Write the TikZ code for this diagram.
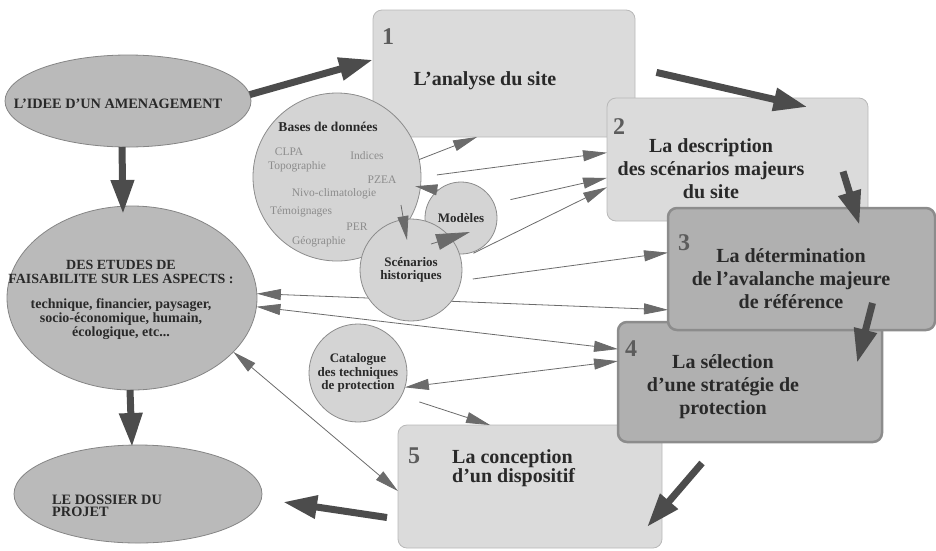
\documentclass[tikz,border=0pt]{standalone}
\usepackage{fontspec}
\setmainfont{Liberation Serif}
\usetikzlibrary{arrows.meta,positioning,calc,shapes.geometric}

\definecolor{ovalfill}{gray}{0.73}
\definecolor{ovalline}{gray}{0.52}
\definecolor{bubblefill}{gray}{0.83}
\definecolor{bubbleline}{gray}{0.55}
\definecolor{litefill}{gray}{0.86}
\definecolor{liteline}{gray}{0.72}
\definecolor{darkfill}{gray}{0.69}
\definecolor{darkline}{gray}{0.55}
\definecolor{inkgray}{gray}{0.16}
\definecolor{numgray}{gray}{0.36}
\definecolor{datagray}{gray}{0.55}
\definecolor{fatgray}{gray}{0.3}
\definecolor{thingray}{gray}{0.42}

\begin{document}
\begin{tikzpicture}[
    x=1pt, y=-1pt,
    oval/.style={ellipse, draw=ovalline, fill=ovalfill, line width=0.8pt,
                 inner sep=0pt, outer sep=0pt},
    bubble/.style={circle, draw=bubbleline, fill=bubblefill, line width=0.8pt,
                   inner sep=0pt, outer sep=0pt, minimum size=#1,
                   font=\fontsize{13}{13.5}\selectfont\bfseries, text=inkgray,
                   align=center},
    stagebox/.style={rectangle, rounded corners=9pt, inner sep=0pt, outer sep=0pt,
                     draw=liteline, fill=litefill, line width=0.8pt},
    stagedark/.style={stagebox, draw=darkline, fill=darkfill, line width=2.5pt},
    num/.style={font=\fontsize{24}{24}\selectfont\bfseries, text=numgray, inner sep=0pt},
    stagetxt/.style={font=\fontsize{20}{23}\selectfont\bfseries, text=inkgray,
                     align=center, inner sep=0pt},
    capstxt/.style={font=\fontsize{14.3}{14}\selectfont\bfseries, text=inkgray,
                    align=center, inner sep=0pt},
    datum/.style={font=\fontsize{11.5}{12}\selectfont, text=datagray, inner sep=0pt},
    thinarr/.style={draw=thingray, line width=0.8pt, -{Triangle[length=24pt,width=11pt]}},
    thinboth/.style={thinarr, {Triangle[length=24pt,width=11pt]}-{Triangle[length=24pt,width=11pt]}},
    fatarr/.style={draw=fatgray, line width=7pt, -{Triangle[length=34pt,width=22pt]}},
  ]
  \useasboundingbox (0,0) rectangle (936,550);

  % ovals on the left
  \node[oval, minimum width=246pt, minimum height=92pt] (idee) at (128,101) {};
  \node[capstxt] (idee-txt) at (118,104) {L'IDEE D'UN AMENAGEMENT};
  \node[oval, minimum width=250pt, minimum height=184pt] (etudes) at (132,298) {};
  \node[capstxt, font=\fontsize{14}{14}\selectfont\bfseries] (etudes-txt) at (121,300)
    {DES ETUDES DE\\FAISABILITE SUR LES ASPECTS :\\[11pt]%
    technique, financier, paysager,\\socio-économique, humain,\\écologique, etc...};
  \node[oval, minimum width=248pt, minimum height=98pt] (dos) at (138,494) {};
  \node[capstxt, align=left, font=\fontsize{14.3}{12.5}\selectfont\bfseries, anchor=west]
    (dos-txt) at (52,506) {LE DOSSIER DU\\PROJET};

  % the five stages
  \node[stagebox, minimum width=262pt, minimum height=127pt] (b1) at (504,73.5) {};
  \node[num, below right=18pt and 9pt of b1.north west] (n1) {1};
  \node[stagetxt] (t1) at (485,81) {L'analyse du site};

  \node[stagebox, minimum width=261pt, minimum height=123pt] (b2) at (737.5,159.5) {};
  \node[num, below right=20pt and 6pt of b2.north west] (n2) {2};
  \node[stagetxt] (t2) at (711,169) {La description\\des scénarios majeurs\\du site};

  \node[stagebox, minimum width=264pt, minimum height=123pt] (b5) at (530,486.5) {};
  \node[num, below right=23pt and 10pt of b5.north west] (n5) {5};
  \node[stagetxt, align=left, font=\fontsize{20}{18}\selectfont\bfseries, anchor=west]
    (t5) at (452,468.5) {La conception\\d'un dispositif};

  \node[stagedark, minimum width=264pt, minimum height=120pt] (b4) at (750,382) {};
  \node[num, below right=18pt and 7pt of b4.north west] (n4) {4};
  \node[stagetxt] (t4) at (723,386.5) {La sélection\\d'une stratégie de\\protection};

  \node[stagedark, minimum width=267pt, minimum height=122pt] (b3) at (801.5,269) {};
  \node[num, below right=26pt and 10pt of b3.north west] (n3) {3};
  \node[stagetxt] (t3) at (791,279) {La détermination\\de l'avalanche majeure\\de référence};

  % runs behind the bubbles
  \draw[thinboth] (etudes.2) -- (b3.197);

  % bubbles
  \node[bubble=168pt] (bdd) at (337,177) {};
  \node[capstxt, font=\fontsize{13.5}{14}\selectfont\bfseries] (bdd-txt) at (328,127) {Bases de données};
  \node[datum] (clpa) at (289,152) {CLPA};
  \node[datum] (indices) at (367,156) {Indices};
  \node[datum] (topo) at (297,167) {Topographie};
  \node[datum] (pzea) at (382,180) {PZEA};
  \node[datum] (nivo) at (334,194) {Nivo-climatologie};
  \node[datum] (temoin) at (301,212) {Témoignages};
  \node[datum] (per) at (357,227) {PER};
  \node[datum] (geo) at (319,242) {Géographie};
  \node[bubble=72pt] (mod) at (461,218) {Modèles};
  \node[bubble=102pt] (sce) at (411,270) {Scénarios\\historiques};
  \node[bubble=98pt] (cat) at (358,373) {Catalogue\\des techniques\\de protection};

  % thin links
  \draw[thinarr] (bdd.12) -- (b1.-113);
  \draw[thinarr, shorten <=16pt] (bdd.east) -- (b2.177);
  \draw[thinarr, shorten <=17pt] (mod.24) -- (b2.188);
  \draw[thinarr, shorten <=14pt] (sce.12) -- (b2.192);
  \draw[thinarr, -{Triangle[length=22pt,width=11pt]}] (mod.129) -- ($(bdd.-7)+(-5,-1)$);
  \draw[thinarr] ($(bdd)+(64,28)$) -- ($(sce.north)+(-4,21)$);
  \draw[thinarr, -{Triangle[length=34pt,width=16pt]}] ($(sce)+(20,-26)$) -- ($(mod)+(9,14)$);
  \draw[thinarr, shorten <=12pt] (sce.-12) -- (b3.173);
  \draw[thinboth] (etudes.-4) -- (b4.166);
  \draw[thinboth] (cat.-17) -- (b4.171);
  \draw[thinarr, shorten <=19pt] (cat.-28) -- (b5.123);
  \draw[thinboth] (etudes.-28) -- (b5.182);

  % main flow
  \draw[fatarr] (idee.3) -- (b1.174);
  \draw[fatarr, shorten <=22pt] ($(b1.east)+(0,-6)$) -- ($(b2.north)+(70,9)$);
  \draw[fatarr] ($(b2.east)+(-25,12)$) -- ($(b3.north)+(58,17)$);
  \draw[fatarr] ($(b3.south)+(71,-27)$) -- ($(b4.north east)+(-25,41)$);
  \draw[fatarr] ($(b4.south west)+(84,21)$) -- ($(b5.south east)+(-15,-21)$);
  \draw[fatarr] ($(b5.west)+(-11,31)$) -- ($(dos.east)+(21,8)$);
  \draw[fatarr] ($(idee.south)+(-6,0)$) -- ($(etudes.north)+(-9,8)$);
  \draw[fatarr] ($(etudes.south)+(-2,0)$) -- ($(dos.north)+(-6,2)$);
\end{tikzpicture}
\end{document}
